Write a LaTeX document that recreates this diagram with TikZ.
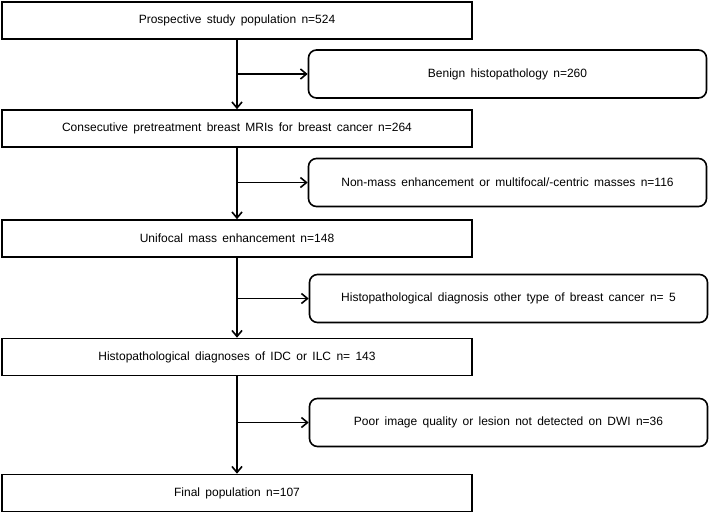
\documentclass[tikz,border=0pt]{standalone}
\usepackage{fontspec}
\setmainfont{Liberation Sans}[WordSpace=1.6]
\usetikzlibrary{arrows.meta}

\begin{document}
\begin{tikzpicture}[x=1pt,y=-1pt,
  mainbox/.style={draw,line width=1.6pt,minimum width=470pt,minimum height=37pt,inner sep=0pt,font=\fontsize{12}{14}\selectfont},
  sidebox/.style={draw,line width=1.6pt,rounded corners=8pt,minimum width=398pt,minimum height=48pt,inner sep=0pt,font=\fontsize{12}{14}\selectfont},
  link/.style={line width=1.6pt,-{Straight Barb[length=6pt,width=10pt]}}]
			%%%%% START %%%%%
			\useasboundingbox (0,0) rectangle (709,512);
			
			\node[mainbox] (pop) at (237,20.5) {Prospective study population n=524};
			\node[sidebox] (benign) at (507.5,74) {Benign histopathology n=260};
			
			\node[mainbox] (mri) at (237,128.5) {Consecutive pretreatment breast MRIs for breast cancer n=264};
			\node[sidebox] (nonmass) at (507.5,182.5) {Non-mass enhancement or multifocal/-centric masses n=116};
			
			\node[mainbox] (unifocal) at (237,238.5) {Unifocal mass enhancement n=148};
			\node[sidebox] (other) at (508.5,298.5) {Histopathological diagnosis other type of breast cancer n= 5};
			
			\node[mainbox] (idcilc) at (237,357) {Histopathological diagnoses of IDC or ILC n= 143};
			\node[sidebox] (poor) at (508.5,422.5) {Poor image quality or lesion not detected on DWI n=36};
			
			\node[mainbox] (final) at (237,493) {Final population n=107};
			
			\draw[link] (pop) -- (mri);
			\draw[link] (pop.south |- benign.west) -- (benign.west);
			\draw[link] (mri) -- (unifocal);
			\draw[link] (mri.south |- nonmass.west) -- (nonmass.west);
			\draw[link] (unifocal) -- (idcilc);
			\draw[link] (unifocal.south |- other.west) -- (other.west);
			\draw[link] (idcilc) -- (final);
			\draw[link] (idcilc.south |- poor.west) -- (poor.west);
			
			%%%%% END %%%%%
\end{tikzpicture}
\end{document}
